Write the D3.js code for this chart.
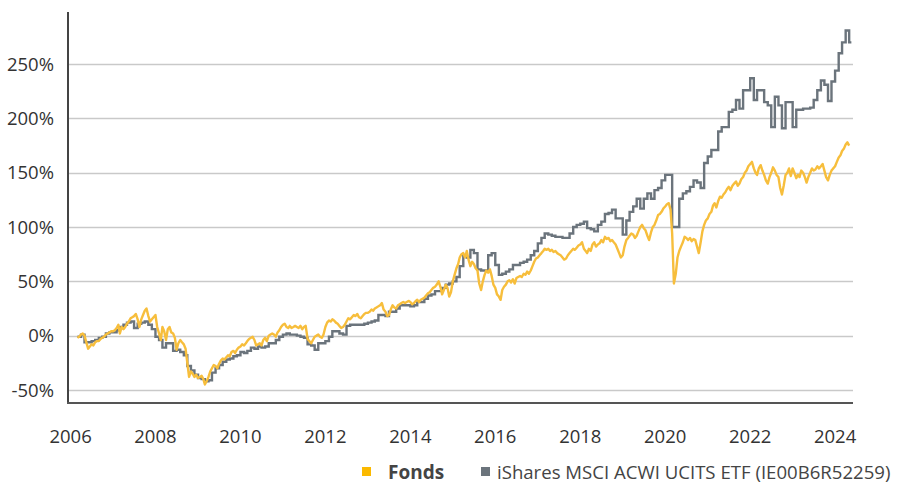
<!DOCTYPE html>
<html>
<head>
<meta charset="utf-8">
<script src="https://cdn.jsdelivr.net/npm/d3@7"></script>
<style>
  body { margin: 0; background: #fff; }
  text { font-family: "Open Sans", sans-serif; }
</style>
</head>
<body>
<div id="chart"></div>
<script>
// monthly values of the ETF, starting March 2006 (percent)
var etfStart = "2006-03-01";
var etfEnd = "2024-05-20";
var etfValues = [
  -1, 1, -6, -6, -5, -4, -2, -1, 2, 3,
  3, 5, 8, 10, 12, 13, 7, 11, 12, 13, 10, 6,
  -1, -4, -11, -7, -7, -14, -13, -15, -18, -28, -32, -36,
  -39, -40, -42, -41, -34, -30, -27, -24, -22, -21, -19, -18,
  -15, -16, -14, -11, -12, -10, -11, -10, -7, -7, -4, -1,
  1, 2, 1, 1, 0, -1, -2, -8, -9, -13, -7, -7,
  -5, -1, 4, 4, 2, 1, 9, 10, 10, 10, 10, 11,
  12, 13, 14, 19, 19, 18, 22, 22, 25, 28, 28, 28,
  27, 28, 31, 31, 34, 37, 38, 41, 41, 44, 47, 48,
  50, 54, 64, 74, 72, 79, 76, 61, 60, 60, 74, 76,
  65, 56, 57, 59, 61, 65, 65, 67, 68, 70, 74, 78,
  85, 90, 94, 93, 92, 91, 91, 90, 90, 94, 100, 102,
  103, 105, 99, 98, 96, 102, 105, 112, 113, 116, 108, 108,
  93, 106, 114, 119, 126, 117, 126, 131, 126, 134, 136, 143,
  148, 148, 100, 100, 126, 131, 133, 137, 143, 141, 136, 159,
  165, 171, 171, 188, 192, 192, 206, 208, 217, 209, 226, 226,
  237, 217, 226, 226, 215, 212, 192, 220, 212, 191, 215, 215,
  192, 208, 208, 209, 209, 210, 217, 226, 235, 231, 216, 234,
  244, 260, 270, 281, 270
];

// fund values on the 1st and 16th of each month, starting March 2006 (percent)
var fondsStart = "2006-03-01";
var fondsValues = [
  -2, -1, 1, 2, 0, -6, -12, -10, -8, -9, -6, -5, -5, -3, -2, -1, 1, 2, 3, 4,
  4, 5, 7, 10, 2, 8, 6, 8, 11, 13, 16, 17, 18, 20, 15, 8, 15, 19, 23, 25, 18, 13, 15, 17,
  19, 8, 2, -4, 8, 4, -4, 6, 8, 3, 2, -2, -13, -7, -4, -6, -8, -12, -25, -38, -33, -35, -38, -36,
  -39, -38, -37, -40, -45, -42, -38, -33, -30, -27, -28, -30, -26, -23, -21, -22, -20, -18, -19, -15, -14, -16, -13, -11,
  -10, -8, -9, -7, -5, -3, -2, -1, -4, -9, -8, -7, -9, -4, -2, -5, 0, 1, 2, 1, -1, 3, 5, 8,
  10, 11, 8, 7, 9, 7, 8, 9, 8, 7, 9, 6, 8, 9, -3, -5, -7, -4, -1, 0, 1, -1, -2, 1,
  8, 12, 14, 13, 15, 14, 12, 11, 9, 7, 8, 10, 13, 16, 15, 17, 19, 18, 20, 17, 16, 18, 20, 21,
  21, 22, 24, 23, 25, 26, 27, 28, 30, 24, 22, 18, 19, 24, 28, 26, 25, 28, 29, 30, 31, 30, 31, 32,
  31, 29, 30, 32, 33, 31, 33, 34, 35, 37, 39, 40, 42, 44, 45, 47, 50, 45, 38, 42, 47, 44, 36, 40,
  50, 56, 62, 66, 72, 75, 76, 72, 78, 70, 64, 68, 66, 62, 60, 48, 42, 50, 56, 60, 58, 61, 55, 47,
  44, 38, 36, 33, 42, 45, 47, 50, 51, 49, 52, 48, 53, 54, 55, 54, 57, 56, 59, 57, 60, 64, 68, 71,
  72, 74, 76, 78, 80, 79, 80, 78, 79, 77, 78, 76, 75, 74, 72, 70, 71, 74, 76, 78, 80, 79, 81, 83,
  84, 86, 80, 78, 76, 80, 78, 84, 86, 82, 84, 85, 88, 86, 91, 89, 90, 87, 88, 86, 84, 80, 76, 72,
  74, 82, 88, 90, 92, 94, 93, 90, 92, 96, 100, 102, 99, 97, 92, 88, 95, 100, 102, 106, 111, 112, 114, 117,
  119, 121, 122, 116, 94, 48, 57, 72, 78, 82, 86, 91, 90, 88, 90, 87, 89, 88, 82, 76, 86, 96, 102, 106,
  108, 112, 114, 120, 122, 118, 124, 128, 127, 130, 132, 135, 137, 134, 138, 140, 142, 138, 140, 144, 146, 150, 152, 156,
  158, 160, 154, 150, 148, 154, 157, 152, 148, 143, 140, 146, 150, 155, 152, 148, 146, 136, 130, 138, 148, 150, 154, 147,
  154, 150, 145, 148, 146, 152, 150, 146, 141, 146, 150, 154, 152, 153, 156, 154, 156, 158, 152, 146, 143, 148, 152, 154,
  156, 160, 164, 166, 170, 172, 176, 178, 175
];

var yearTicks = [2006, 2008, 2010, 2012, 2014, 2016, 2018, 2020, 2022, 2024];
var pctTicks = [-50, 0, 50, 100, 150, 200, 250];
var seriesNames = ["Fonds", "iShares MSCI ACWI UCITS ETF (IE00B6R52259)"];
var seriesColors = ["#f7be3c", "#6b747c"];

var svgwidth = 897,
    svgheight = 485,
    margin = {top: 12, right: 44, bottom: 82, left: 68};

var width = svgwidth - margin.left - margin.right,
    height = svgheight - margin.top - margin.bottom;

var parseDate = d3.utcParse("%Y-%m-%d");

var etf = etfValues.map(function(v, i) {
  return {date: d3.utcMonth.offset(parseDate(etfStart), i), value: v};
});
etf.push({date: parseDate(etfEnd), value: etfValues[etfValues.length - 1]});

var fonds = fondsValues.map(function(v, i) {
  var d = d3.utcMonth.offset(parseDate(fondsStart), Math.floor(i / 2));
  if (i % 2) d = d3.utcDay.offset(d, 15);
  return {date: d, value: v};
});

var svg = d3.select("#chart").append("svg")
    .attr("width", svgwidth)
    .attr("height", svgheight);

var g = svg.append("g")
    .attr("transform", "translate(" + margin.left + "," + margin.top + ")");

var x = d3.scaleUtc()
    .domain([parseDate("2005-12-10"), parseDate("2024-06-03")])
    .range([0, width]);

var y = d3.scaleLinear()
    .domain([-62, 298])
    .range([height, 0]);

// grid lines
g.append("g")
  .selectAll("line")
  .data(pctTicks)
  .enter().append("line")
    .attr("x1", 0)
    .attr("x2", width)
    .attr("y1", function(d) { return Math.round(y(d)) + 0.5; })
    .attr("y2", function(d) { return Math.round(y(d)) + 0.5; })
    .style("stroke", "#c9c9c9")
    .style("stroke-width", 1.6);

// y labels
g.append("g")
  .selectAll("text")
  .data(pctTicks)
  .enter().append("text")
    .attr("x", -14)
    .attr("y", function(d) { return y(d); })
    .attr("dy", "0.36em")
    .attr("text-anchor", "end")
    .style("font-size", "18.5px")
    .style("fill", "#333")
    .text(function(d) { return d + "%"; });

// x labels
g.append("g")
  .selectAll("text")
  .data(yearTicks)
  .enter().append("text")
    .attr("x", function(d) { return x(Date.UTC(d, 0, 1)); })
    .attr("y", height + 40)
    .attr("text-anchor", "middle")
    .style("font-size", "18.5px")
    .style("fill", "#333")
    .text(function(d) { return d; });

var line = d3.line()
    .x(function(d) { return x(d.date); })
    .y(function(d) { return y(d.value); });

g.append("path")
    .datum(etf)
    .attr("d", line.curve(d3.curveStepAfter))
    .style("fill", "none")
    .style("stroke", seriesColors[1])
    .style("stroke-width", 2.4);

g.append("path")
    .datum(fonds)
    .attr("d", line.curve(d3.curveLinear))
    .style("fill", "none")
    .style("stroke", seriesColors[0])
    .style("stroke-width", 2.4)
    .style("stroke-linejoin", "round");

// axes lines
g.append("line")
    .attr("x1", 0).attr("x2", 0)
    .attr("y1", 0).attr("y2", height)
    .style("stroke", "#444")
    .style("stroke-width", 2);

g.append("line")
    .attr("x1", -1).attr("x2", width)
    .attr("y1", height).attr("y2", height)
    .style("stroke", "#555")
    .style("stroke-width", 2);

// legend
var legend = svg.append("g");
var legendX = [362, 481];
seriesNames.forEach(function(name, i) {
  legend.append("rect")
      .attr("x", legendX[i])
      .attr("y", 467)
      .attr("width", 9)
      .attr("height", 9)
      .style("fill", i === 0 ? "#fbb900" : seriesColors[1]);
  legend.append("text")
      .attr("x", legendX[i] + (i === 0 ? 26 : 16))
      .attr("y", 479)
      .style("font-size", i === 0 ? "19px" : "18.6px")
      .style("font-weight", i === 0 ? "bold" : "normal")
      .style("fill", "#444")
      .text(name);
});
</script>
</body>
</html>
